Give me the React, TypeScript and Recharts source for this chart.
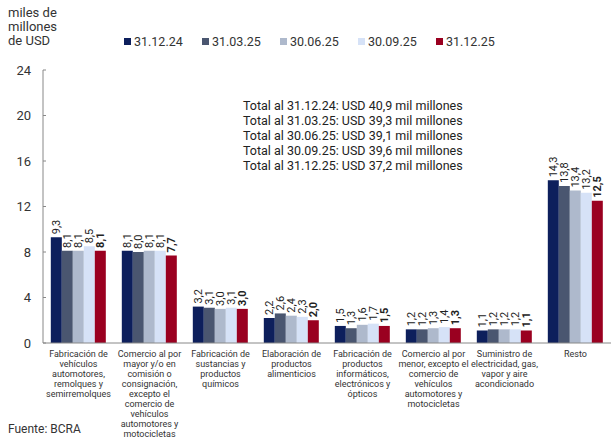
import { BarChart, Bar, XAxis, YAxis, LabelList } from 'recharts'

const categories = [
  'Fabricación de\nvehículos\nautomotores,\nremolques y\nsemirremolques',
  'Comercio al por\nmayor y/o en\ncomisión o\nconsignación,\nexcepto el\ncomercio de\nvehículos\nautomotores y\nmotocicletas',
  'Fabricación de\nsustancias y\nproductos\nquímicos',
  'Elaboración de\nproductos\nalimenticios',
  'Fabricación de\nproductos\ninformáticos,\nelectrónicos y\nópticos',
  'Comercio al por\nmenor, excepto el\ncomercio de\nvehículos\nautomotores y\nmotocicletas',
  'Suministro de\nelectricidad, gas,\nvapor y aire\nacondicionado',
  'Resto',
]

const seriesNames = ['31.12.24', '31.03.25', '30.06.25', '30.09.25', '31.12.25']
const seriesColors = ['#0d1f5c', '#4a5670', '#aeb9cc', '#d6e2f7', '#9a0020']

const s1 = [9.3, 8.1, 3.2, 2.2, 1.5, 1.2, 1.1, 14.3]
const s2 = [8.1, 8.0, 3.1, 2.6, 1.3, 1.2, 1.2, 13.8]
const s3 = [8.1, 8.1, 3.0, 2.4, 1.6, 1.3, 1.2, 13.4]
const s4 = [8.5, 8.1, 3.1, 2.3, 1.7, 1.4, 1.2, 13.2]
const s5 = [8.1, 7.7, 3.0, 2.0, 1.5, 1.3, 1.1, 12.5]
const seriesValues = [s1, s2, s3, s4, s5]

const yTicks = [0, 4, 8, 12, 16, 20, 24]
const sepTicks = [0, 1, 2, 3, 4, 5, 6, 7, 8]

const totals = [
  'Total al 31.12.24: USD 40,9 mil millones',
  'Total al 31.03.25: USD 39,3 mil millones',
  'Total al 30.06.25: USD 39,1 mil millones',
  'Total al 30.09.25: USD 39,6 mil millones',
  'Total al 31.12.25: USD 37,2 mil millones',
]

const data = categories.map((name, i) => {
  const row: Record<string, string | number> = { name }
  seriesNames.forEach((s, k) => {
    row[s] = seriesValues[k][i]
  })
  return row
})

const fmt = (v: number) => v.toFixed(1).replace('.', ',')

const CatTick = (props: any) => {
  const { x, y, payload } = props
  const lines = String(payload.value).split('\n')
  return (
    <text x={x} y={y} textAnchor="middle" fontSize={9} fill="#333">
      {lines.map((l, i) => (
        <tspan key={i} x={x} dy={i === 0 ? '0.71em' : 9.9}>
          {l}
        </tspan>
      ))}
    </text>
  )
}

const makeLabel = (bold: boolean) => (props: any) => {
  const { x, y, width, value } = props
  const cx = Number(x) + Number(width) / 2
  const ty = Number(y) - 3
  return (
    <text
      x={cx}
      y={ty}
      transform={`rotate(-90 ${cx} ${ty})`}
      textAnchor="start"
      dominantBaseline="central"
      fontSize={11}
      fontWeight={bold ? 700 : 400}
      fill="#222"
    >
      {fmt(Number(value))}
    </text>
  )
}

export default function App() {
  return (
    <div
      style={{
        position: 'absolute',
        left: 0,
        top: 0,
        width: 615,
        height: 439,
        background: '#fff',
        fontFamily: 'Roboto, sans-serif',
        color: '#333',
      }}
    >
      <div style={{ position: 'absolute', left: 8, top: 6, fontSize: 13, lineHeight: '14px' }}>
        miles de
        <br />
        millones
        <br />
        de USD
      </div>

      <div style={{ position: 'absolute', left: 124, top: 34, display: 'flex', fontSize: 12.5 }}>
        {seriesNames.map((s, k) => (
          <div key={s} style={{ width: 78, display: 'flex', alignItems: 'center' }}>
            <span
              style={{
                display: 'inline-block',
                width: 7,
                height: 7,
                background: seriesColors[k],
                marginRight: 3,
              }}
            />
            {s}
          </div>
        ))}
      </div>

      <BarChart
        width={615}
        height={439}
        data={data}
        margin={{ top: 70, right: 4, left: 0, bottom: 0 }}
        barCategoryGap="11%"
        barGap={0}
      >
        <XAxis
          xAxisId="sep"
          type="number"
          domain={[0, 8]}
          ticks={sepTicks}
          allowDataOverflow
          height={0}
          axisLine={false}
          tick={false}
          tickSize={-5}
          tickLine={{ stroke: '#888' }}
        />
        <XAxis
          dataKey="name"
          interval={0}
          height={96}
          axisLine={{ stroke: '#888' }}
          tickLine={false}
          tickSize={0}
          tickMargin={8}
          tick={<CatTick />}
        />
        <YAxis
          width={43}
          domain={[0, 24]}
          ticks={yTicks}
          axisLine={{ stroke: '#888' }}
          tickLine={{ stroke: '#888' }}
          tickSize={-3}
          tickMargin={15}
          tick={{ fontSize: 13, fill: '#333' }}
        />
        {seriesNames.map((s, k) => (
          <Bar key={s} dataKey={s} fill={seriesColors[k]} isAnimationActive={false}>
            <LabelList dataKey={s} content={makeLabel(k === 4)} />
          </Bar>
        ))}
      </BarChart>

      <div
        style={{
          position: 'absolute',
          left: 243,
          top: 98,
          fontSize: 12.5,
          lineHeight: '15px',
          color: '#222',
        }}
      >
        {totals.map((t) => (
          <div key={t}>{t}</div>
        ))}
      </div>

      <div style={{ position: 'absolute', left: 8, top: 422, fontSize: 12 }}>Fuente: BCRA</div>
    </div>
  )
}
